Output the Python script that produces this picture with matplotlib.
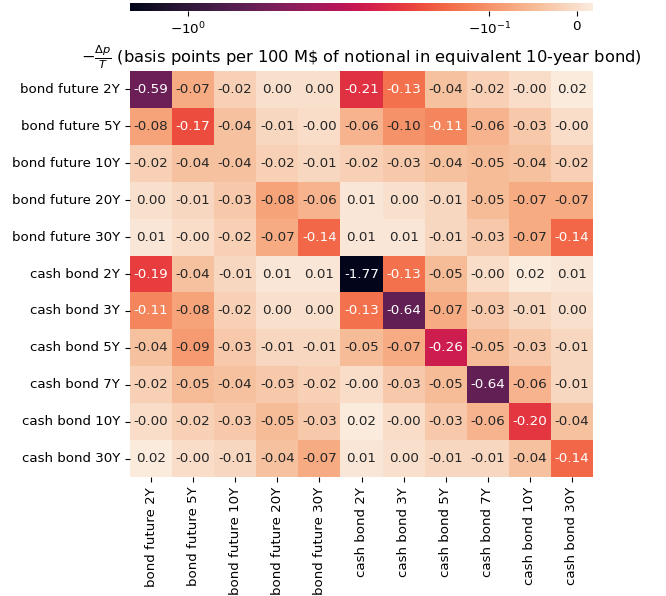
import numpy as np
import matplotlib
matplotlib.use("Agg")
import matplotlib.pyplot as plt
import matplotlib.colors as mcolors
import seaborn as sns

labels = ["bond future 2Y", "bond future 5Y", "bond future 10Y", "bond future 20Y",
          "bond future 30Y", "cash bond 2Y", "cash bond 3Y", "cash bond 5Y",
          "cash bond 7Y", "cash bond 10Y", "cash bond 30Y"]

row_bf2 = [-0.59, -0.07, -0.02, 0.002, 0.002, -0.21, -0.13, -0.04, -0.02, -0.002, 0.02]
row_bf5 = [-0.08, -0.17, -0.04, -0.01, -0.002, -0.06, -0.10, -0.11, -0.06, -0.03, -0.002]
row_bf10 = [-0.02, -0.04, -0.04, -0.02, -0.01, -0.02, -0.03, -0.04, -0.05, -0.04, -0.02]
row_bf20 = [0.002, -0.01, -0.03, -0.08, -0.06, 0.01, 0.002, -0.01, -0.05, -0.07, -0.07]
row_bf30 = [0.01, -0.002, -0.02, -0.07, -0.14, 0.01, 0.01, -0.01, -0.03, -0.07, -0.14]
row_cb2 = [-0.19, -0.04, -0.01, 0.01, 0.01, -1.77, -0.13, -0.05, -0.002, 0.02, 0.01]
row_cb3 = [-0.11, -0.08, -0.02, 0.002, 0.002, -0.13, -0.64, -0.07, -0.03, -0.01, 0.002]
row_cb5 = [-0.04, -0.09, -0.03, -0.01, -0.01, -0.05, -0.07, -0.26, -0.05, -0.03, -0.01]
row_cb7 = [-0.02, -0.05, -0.04, -0.03, -0.02, -0.002, -0.03, -0.05, -0.64, -0.06, -0.01]
row_cb10 = [-0.002, -0.02, -0.03, -0.05, -0.03, 0.02, -0.002, -0.03, -0.06, -0.20, -0.04]
row_cb30 = [0.02, -0.002, -0.01, -0.04, -0.07, 0.01, 0.002, -0.01, -0.01, -0.04, -0.14]

data = np.array([row_bf2, row_bf5, row_bf10, row_bf20, row_bf30, row_cb2, row_cb3,
                 row_cb5, row_cb7, row_cb10, row_cb30])

cbar_ticks = [-1.0, -0.1, 0.0]

W, H = 666, 596
fig = plt.figure(figsize=(W / 100, H / 100), dpi=100)
ax = fig.add_axes([130 / W, 1 - 477 / H, 463 / W, 406 / H])
cax = fig.add_axes([130 / W, 1 - 10.7 / H, 463 / W, 7.4 / H])

norm = mcolors.SymLogNorm(linthresh=0.1, linscale=0.262, vmin=-1.56, vmax=0.018, base=10)

sns.heatmap(data, ax=ax, cbar_ax=cax, cmap="rocket", norm=norm, annot=True, fmt=".2f",
            xticklabels=labels, yticklabels=labels,
            cbar_kws={"orientation": "horizontal"}, annot_kws={"fontsize": 9.7})

ax.set_xticklabels(labels, rotation=90, fontsize=9.6)
ax.set_yticklabels(labels, rotation=0, fontsize=9.6)
cax.set_xticks(cbar_ticks)
cax.xaxis.set_minor_locator(matplotlib.ticker.NullLocator())
cax.tick_params(labelsize=9.7)
for sp in cax.spines.values():
    sp.set_visible(False)

ax.set_title(r"$-\frac{\Delta p}{T}$ (basis points per 100 M\$ of notional in equivalent 10-year bond)",
             fontsize=11.7)

fig.savefig("out.png", dpi=100)
